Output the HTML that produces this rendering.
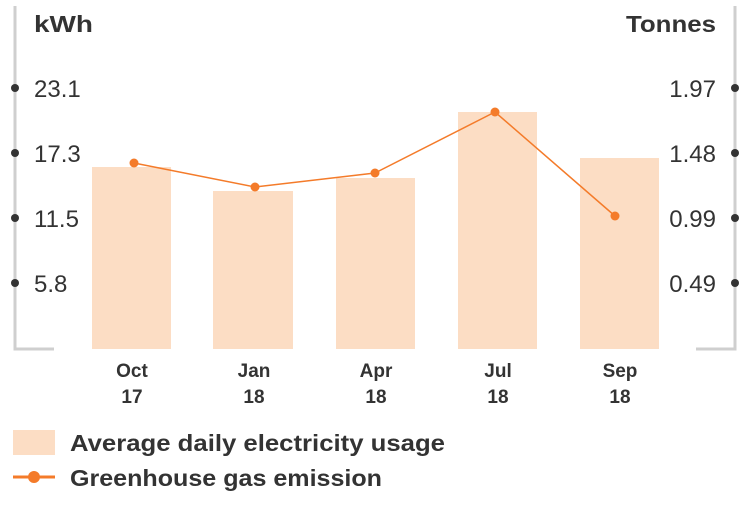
<!DOCTYPE html>
<html><head><style>
body{margin:0;background:#fff;}
svg text{font-family:"Liberation Sans",sans-serif;}
</style></head><body>
<svg width="755" height="500" xmlns="http://www.w3.org/2000/svg">
<g fill="none" stroke="#cfcfcf" stroke-width="3">
<polyline points="15,6 15,349 54,349"/>
<polyline points="735,6 735,349 696,349"/>
</g>
<g fill="#333">
<circle cx="15" cy="88" r="4"/><circle cx="15" cy="153" r="4"/><circle cx="15" cy="218" r="4"/><circle cx="15" cy="283" r="4"/>
<circle cx="735" cy="88" r="4"/><circle cx="735" cy="153" r="4"/><circle cx="735" cy="218" r="4"/><circle cx="735" cy="283" r="4"/>
</g>
<g font-size="24" fill="#333">
<text x="34" y="32" font-weight="bold" font-size="23" textLength="59" lengthAdjust="spacingAndGlyphs">kWh</text>
<text x="626" y="32" font-weight="bold" font-size="23" textLength="90" lengthAdjust="spacingAndGlyphs">Tonnes</text>
<text x="34" y="97">23.1</text><text x="34" y="162">17.3</text><text x="34" y="227">11.5</text><text x="34" y="292">5.8</text>
<text x="716" y="97" text-anchor="end">1.97</text><text x="716" y="162" text-anchor="end">1.48</text><text x="716" y="227" text-anchor="end">0.99</text><text x="716" y="292" text-anchor="end">0.49</text>
</g>
<g fill="#fcddc4">
<rect x="92" y="167" width="79" height="182"/>
<rect x="213" y="191" width="80" height="158"/>
<rect x="336" y="178" width="79" height="171"/>
<rect x="458" y="112" width="79" height="237"/>
<rect x="580" y="158" width="79" height="191"/>
</g>
<polyline points="134,163 255,187 375,173 495,112 615,216" fill="none" stroke="#f47b2a" stroke-width="1.5"/>
<g fill="#f47b2a">
<circle cx="134" cy="163" r="4.5"/><circle cx="255" cy="187" r="4.5"/><circle cx="375" cy="173" r="4.5"/><circle cx="495" cy="112" r="4.5"/><circle cx="615" cy="216" r="4.5"/>
</g>
<g font-size="19" font-weight="bold" fill="#333" text-anchor="middle">
<text x="132" y="377">Oct</text><text x="132" y="403">17</text>
<text x="254" y="377">Jan</text><text x="254" y="403">18</text>
<text x="376" y="377">Apr</text><text x="376" y="403">18</text>
<text x="498" y="377">Jul</text><text x="498" y="403">18</text>
<text x="620" y="377">Sep</text><text x="620" y="403">18</text>
</g>
<rect x="13" y="430" width="42" height="25" fill="#fcddc4"/>
<line x1="13" y1="477" x2="55" y2="477" stroke="#f47b2a" stroke-width="3"/>
<circle cx="34" cy="477" r="6" fill="#f47b2a"/>
<g font-size="23" font-weight="bold" fill="#333">
<text x="70" y="451" textLength="375" lengthAdjust="spacingAndGlyphs">Average daily electricity usage</text>
<text x="70" y="486" textLength="312" lengthAdjust="spacingAndGlyphs">Greenhouse gas emission</text>
</g>
</svg>
</body></html>
